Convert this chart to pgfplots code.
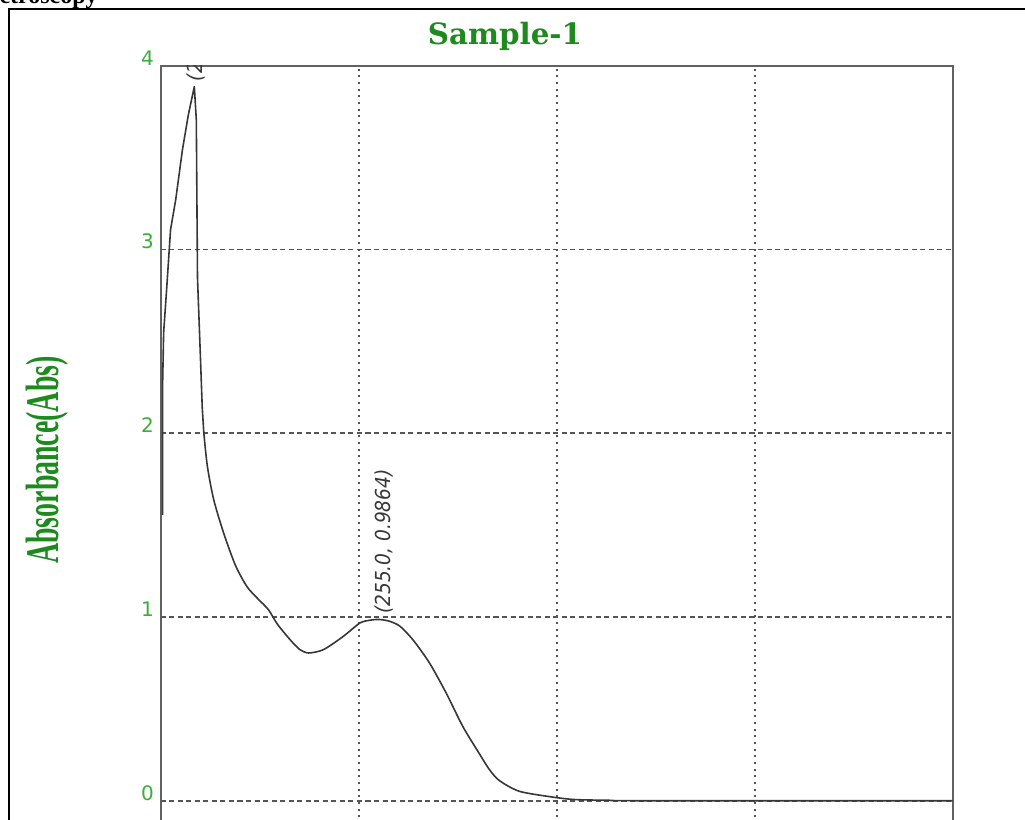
\documentclass[border=0pt]{standalone}
\usepackage{pgfplots}
\pgfplotsset{compat=1.18}
\usepackage{pgfplotstable}
\usepackage{fontspec}
\setmainfont{Liberation Serif}
\newfontfamily\tickfont{DejaVu Sans}
\newfontfamily\titlefont{DejaVu Serif}
\newfontfamily\peakfont{DejaVu Sans Condensed}

\definecolor{tickgreen}{RGB}{60,172,60}
\definecolor{titlegreen}{RGB}{28,138,28}
\definecolor{curve}{RGB}{55,55,55}
\definecolor{gridgray}{RGB}{85,85,85}

% UV absorbance scan of Sample-1 (wavelength in nm, absorbance)
% short-wavelength end: detector noise and the sharp band near 208 nm
\pgfplotstableread{
nm abs
200.5 1.556
200.5 2.275
200.75 2.547
201.5 2.781
202.5 3.108
203.8 3.271
205.5 3.543
207.0 3.734
208.5 3.886
209.0 3.706
209.3 2.846
210.0 2.438
210.5 2.139
210.9 2.001
}\scanA
% from 211 nm on: shoulder, band at 255 nm and baseline
\pgfplotstableread{
nm abs
210.9 2.001
211.8 1.819
213.4 1.638
215.9 1.457
218.9 1.280
221.8 1.165
224.5 1.100
227.2 1.040
229.5 0.960
232.7 0.876
235.0 0.825
237.3 0.804
241.1 0.822
246.1 0.894
250.3 0.967
252.8 0.982
255.0 0.9864
257.6 0.978
260.4 0.950
263.7 0.876
267.9 0.749
272.1 0.586
276.3 0.404
280.5 0.255
283.0 0.170
285.5 0.110
290.6 0.051
298.9 0.020
304.8 0.006
314.0 0.002
320.0 0.000
400.0 0.000
}\scanB

\begin{document}
\begin{tikzpicture}
\useasboundingbox (0,0) rectangle (768.75pt,615pt);
\clip (0,0) rectangle (768.75pt,615pt);

% page heading and frame
\node[anchor=base east, inner sep=0pt, font=\bfseries\fontsize{18}{20}\selectfont]
  at (73.5pt,612.5pt) {Spectroscopy};
\draw[line width=1.5pt] (6.75pt,-20pt) -- (6.75pt,608.25pt) -- (800pt,608.25pt);

\begin{axis}[
  scale only axis,
  width=594pt, height=578.8pt,
  at={(120.5pt,565.7pt)}, anchor=north west,
  xmin=200, xmax=400, ymin=-0.2, ymax=4,
  xtick={200,250,300,350,400},
  ytick={0,1,2,3,4},
  xticklabels={},
  major tick length=0pt,
  grid=major,
  x grid style={draw=gridgray, line width=1.5pt, dash pattern=on 1.5pt off 3.5pt},
  y grid style={draw=gridgray, line width=1.4pt, dash pattern=on 3.8pt off 2.6pt},
  axis line style={draw=black!62, line width=1.5pt},
  /pgf/number format/assume math mode=true,
  yticklabel style={anchor=south east, inner sep=0pt, xshift=-5pt,
    font=\tickfont\fontsize{15}{15}\selectfont, text=tickgreen},
  clip=true,
]
\addplot[curve, line width=1.2pt, line join=round] table[x=nm, y=abs] {\scanA};
\addplot[curve, line width=1.2pt, smooth, tension=0.45] table[x=nm, y=abs] {\scanB};
\begin{scope}
\clip (rel axis cs:0,0) rectangle (rel axis cs:1,1);
\node[rotate=90, anchor=west, inner sep=4pt, text=curve,
  font=\peakfont\itshape\fontsize{15.5}{16}\selectfont]
  at ([xshift=4pt]axis cs:255.0,0.9864) {(255.0, 0.9864)};
\node[rotate=90, anchor=west, inner sep=4pt, text=curve,
  font=\peakfont\itshape\fontsize{15.5}{16}\selectfont]
  at ([xshift=1pt]axis cs:208.5,3.886) {(208.5, 3.886)};
\end{scope}
\end{axis}

% title and axis label
\node[anchor=base, inner sep=0pt, text=titlegreen,
  font=\titlefont\bfseries\fontsize{22}{24}\selectfont]
  at (378.75pt,581.25pt) {Sample-1};
\node[rotate=90, inner sep=0pt, text=titlegreen,
  font=\bfseries\fontsize{20.9}{22}\selectfont]
  at (35.25pt,270pt) {\scalebox{1}[1.68]{Absorbance(Abs)}};
\end{tikzpicture}
\end{document}
